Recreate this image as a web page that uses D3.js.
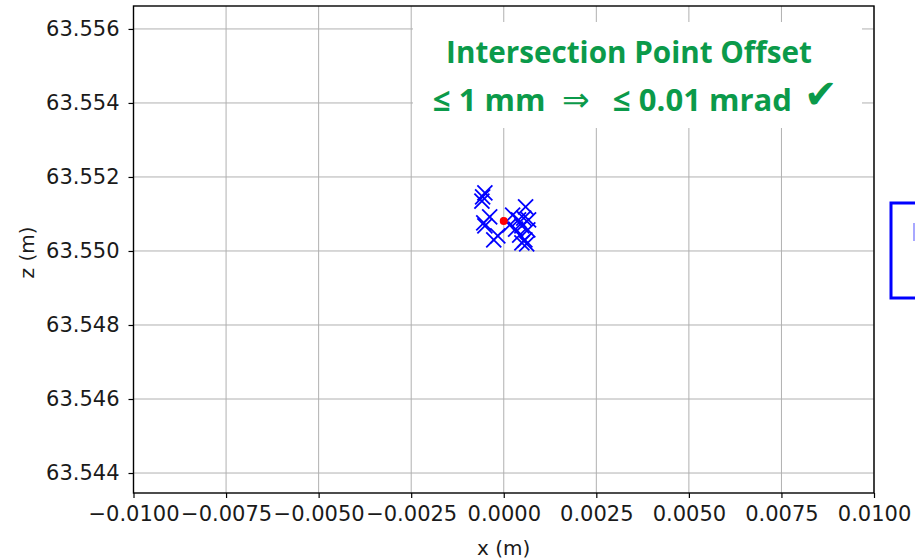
<!DOCTYPE html>
<html>
<head>
<meta charset="utf-8">
<script src="https://cdn.jsdelivr.net/npm/d3@7"></script>
<style>
  html, body { margin: 0; padding: 0; background: #fff; }
  svg { display: block; }
  text { font-family: "DejaVu Sans", sans-serif; }
</style>
</head>
<body>
<svg id="chart" width="915" height="559"></svg>
<script>
// Measured intersection points (x, z) in metres
const pointX = [-0.00051, -0.00059, -0.00057, -0.00038, -0.00054, -0.00051, -0.00027, -0.00016,
                 0.00024,  0.00059,  0.00040,  0.00054,  0.00067,  0.00032,  0.00049,  0.00043,
                 0.00057,  0.00062,  0.00049,  0.00016,  0.00065];
const pointZ = [63.55157, 63.55135, 63.55146, 63.55092, 63.55076, 63.55068, 63.55030, 63.55041,
                63.55097, 63.55119, 63.55084, 63.55089, 63.55084, 63.55059, 63.55068, 63.55043,
                63.55030, 63.55019, 63.55022, 63.55070, 63.55057];
// Nominal intersection point
const refX = [0.0];
const refZ = [63.55081];

const xTicks = [-0.01, -0.0075, -0.005, -0.0025, 0, 0.0025, 0.005, 0.0075, 0.01];
const zTicks = [63.544, 63.546, 63.548, 63.550, 63.552, 63.554, 63.556];
const titleText = "Intersection Point Offset";
const criterionParts = ["\u2264 1 mm", "\u21D2", "\u2264 0.01 mrad"];

const svg = d3.select("#chart");
const plotL = 133.5, plotR = 874, plotT = 6, plotB = 493;

const x = d3.scaleLinear().domain([-0.01, 0.01]).range([plotL, plotR]);
const y = d3.scaleLinear().domain([63.54346, 63.55662]).range([plotB, plotT]);

// grid
const grid = svg.append("g");
grid.selectAll("line.vx").data(xTicks).join("line")
  .attr("x1", d => x(d)).attr("x2", d => x(d))
  .attr("y1", plotT).attr("y2", plotB)
  .attr("stroke", "#b0b0b0").attr("stroke-width", 1);
grid.selectAll("line.hz").data(zTicks).join("line")
  .attr("x1", plotL).attr("x2", plotR)
  .attr("y1", d => y(d)).attr("y2", d => y(d))
  .attr("stroke", "#b0b0b0").attr("stroke-width", 1);

// white panel behind the annotation
svg.append("rect").attr("x", 413).attr("y", 22).attr("width", 449).attr("height", 106)
  .attr("fill", "#fff");

// axes
const fmtX = v => (v < 0 ? "\u2212" : "") + Math.abs(v).toFixed(4);
const xAxis = d3.axisBottom(x).tickValues(xTicks).tickFormat(fmtX).tickSize(5).tickPadding(8);
const yAxis = d3.axisLeft(y).tickValues(zTicks).tickFormat(d => d.toFixed(3)).tickSize(5).tickPadding(9);

const gx = svg.append("g").attr("transform", `translate(0,${plotB})`).call(xAxis);
const gy = svg.append("g").attr("transform", `translate(${plotL},0)`).call(yAxis);
[gx, gy].forEach(g => {
  g.select(".domain").remove();
  g.selectAll(".tick line").attr("stroke", "#000").attr("stroke-width", 1.2);
  g.selectAll(".tick text").attr("fill", "#1a1a1a").style("font-size", "21px")
    .style("font-family", "'DejaVu Sans', sans-serif");
});

// frame
svg.append("rect").attr("x", plotL).attr("y", plotT).attr("width", plotR - plotL).attr("height", plotB - plotT)
  .attr("fill", "none").attr("stroke", "#000").attr("stroke-width", 1.4);

// axis labels
svg.append("text").attr("x", (plotL + plotR) / 2).attr("y", 555).attr("text-anchor", "middle")
  .attr("fill", "#1a1a1a").style("font-size", "20px").text("x (m)");
svg.append("text").attr("transform", `translate(34,${(plotT + plotB) / 2 + 3}) rotate(-90)`)
  .attr("fill", "#1a1a1a").attr("text-anchor", "middle").style("font-size", "20px").text("z (m)");

// crosses
const pts = pointX.map((v, i) => ({ x: v, z: pointZ[i] }));
const s = 7.5;
const cross = svg.append("g").selectAll("g").data(pts).join("g")
  .attr("transform", d => `translate(${x(d.x)},${y(d.z)})`);
cross.append("line").attr("x1", -s).attr("y1", -s).attr("x2", s).attr("y2", s);
cross.append("line").attr("x1", -s).attr("y1", s).attr("x2", s).attr("y2", -s);
cross.selectAll("line").attr("stroke", "#0000ff").attr("stroke-width", 1.8);

// nominal point
svg.append("g").selectAll("circle").data(refX.map((v, i) => ({ x: v, z: refZ[i] }))).join("circle")
  .attr("cx", d => x(d.x)).attr("cy", d => y(d.z)).attr("r", 4).attr("fill", "#ff0000");

// annotation
const green = "#0b9a4a";
const boldFont = "'Open Sans', sans-serif";
const t1 = svg.append("text").attr("x", 629).attr("y", 63).attr("text-anchor", "middle")
  .attr("fill", green).style("font-family", boldFont).style("font-weight", "bold")
  .style("font-size", "26px").text(titleText);
const w1 = t1.node().getComputedTextLength();
t1.style("font-size", (26 * 366 / w1) + "px");

// criterion line, placed piece by piece
const partX = [433, 562, 613];
const parts = svg.append("g").selectAll("text").data(criterionParts).join("text")
  .attr("x", (d, i) => partX[i]).attr("y", 111)
  .attr("fill", green).style("font-family", boldFont).style("font-weight", "bold")
  .style("font-size", "29px").text(d => d);
const wLast = parts.nodes()[2].getComputedTextLength();
const fs2 = Math.max(26, Math.min(32, 29 * 179 / wLast));
parts.style("font-size", fs2 + "px");
// the arrow is drawn lighter and a bit wider
parts.filter((d, i) => i === 1).style("font-weight", "normal").style("font-size", (fs2 * 1.05) + "px");

svg.append("text").attr("x", 804).attr("y", 108).attr("fill", green)
  .style("font-size", "40px").text("\u2714");

// partially visible boxed element at the right edge
svg.append("rect").attr("x", 891).attr("y", 203).attr("width", 40).attr("height", 95)
  .attr("fill", "none").attr("stroke", "#0000ff").attr("stroke-width", 3);
svg.append("rect").attr("x", 913).attr("y", 223).attr("width", 4).attr("height", 18)
  .attr("fill", "#a8a8ff");
</script>
</body>
</html>
